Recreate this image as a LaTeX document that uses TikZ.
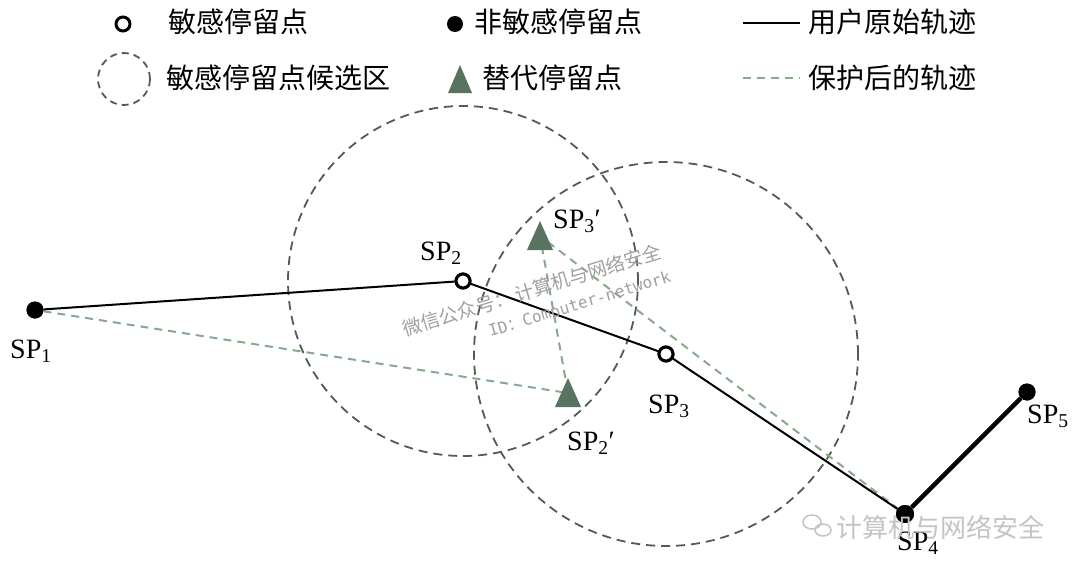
\documentclass[tikz,border=0pt]{standalone}
\usepackage{fontspec}
\setmainfont{Liberation Serif}
\newfontfamily\cjk{Noto Sans CJK SC}
\newfontfamily\monof{DejaVu Sans Mono}
\usetikzlibrary{calc}
\definecolor{candgray}{HTML}{525C54}
\definecolor{trifill}{HTML}{587360}
\definecolor{dashgreen}{HTML}{88AA88}
\definecolor{wmgray}{HTML}{A0A0A0}
\definecolor{wmlight}{HTML}{C4C4C4}
\begin{document}
\begin{tikzpicture}[x=1pt,y=-1pt,
  sens/.style={circle, draw=black, line width=3pt, fill=white, inner sep=0pt, minimum size=14pt},
  nonsens/.style={circle, fill=black, inner sep=0pt, minimum size=17pt},
  cand/.style={draw=candgray, line width=1.8pt, dash pattern=on 9pt off 6pt},
  orig/.style={draw=black, line width=2pt},
  origthick/.style={draw=black, line width=4.5pt},
  prot/.style={draw=dashgreen, line width=2pt, dash pattern=on 8pt off 6pt},
  lbl/.style={anchor=base west, inner sep=0pt, font=\fontsize{28}{30}\selectfont},
  legtxt/.style={anchor=west, inner sep=0pt, font=\cjk\fontsize{28}{30}\selectfont}]
\fill[white] (0,0) rectangle (1080,562);
\useasboundingbox (0,0) rectangle (1080,562);

% ---------- legend ----------
\node[sens] (lgsens) at (123,24) {};
\node[legtxt] (lgsenst) at (168,22) {敏感停留点};
\node[nonsens, minimum size=16pt] (lgnon) at (455,24) {};
\node[legtxt] (lgnont) at (474,22) {非敏感停留点};
\coordinate (lgoa) at (743,23);
\coordinate (lgob) at (800,23);
\draw[orig] (lgoa) -- (lgob);
\node[legtxt] (lgorigt) at (808,22) {用户原始轨迹};

\node[circle, draw=candgray, line width=1.8pt, dash pattern=on 7pt off 5pt, minimum size=52pt, inner sep=0pt] (lgcand) at (124,79) {};
\node[legtxt] (lgcandt) at (166,78) {敏感停留点候选区};
\coordinate (lgtri) at (460,79);
\fill[trifill] ($(lgtri)+(0,-14)$) -- ($(lgtri)+(12,14)$) -- ($(lgtri)+(-12,14)$) -- cycle;
\node[legtxt] (lgtrit) at (482,78) {替代停留点};
\coordinate (lgpa) at (743,78);
\coordinate (lgpb) at (800,78);
\draw[prot] (lgpa) -- (lgpb);
\node[legtxt] (lgprott) at (808,78) {保护后的轨迹};

% ---------- points ----------
\node[nonsens] (sp1) at (35,310) {};
\node[sens] (sp2) at (463,281) {};
\node[sens] (sp3) at (666,354) {};
\node[nonsens, minimum size=18pt] (sp4) at (905,514) {};
\node[nonsens] (sp5) at (1027,392) {};
\coordinate (sp3p) at (540,236);
\coordinate (sp2p) at (568,393);

% candidate regions
\draw[cand] (sp2) circle[radius=175pt];
\draw[cand] (sp3) circle[radius=192pt];

% protected trajectory
\draw[prot] (sp1) -- (sp2p) -- (sp3p) -- (sp4);

% original trajectory
\draw[orig] (sp1) -- (sp2);
\draw[orig] (sp2) -- (sp3);
\draw[orig] (sp3) -- (sp4);
\draw[origthick] (sp4) -- (sp5);

% substitute points
\fill[trifill] ($(sp3p)+(0,-15)$) -- ($(sp3p)+(13,14)$) -- ($(sp3p)+(-13,14)$) -- cycle;
\fill[trifill] ($(sp2p)+(0,-15)$) -- ($(sp2p)+(13,14)$) -- ($(sp2p)+(-13,14)$) -- cycle;

% redraw point markers on top
\node[nonsens] at (sp1) {};
\node[sens] at (sp2) {};
\node[sens] at (sp3) {};
\node[nonsens, minimum size=18pt] at (sp4) {};
\node[nonsens] at (sp5) {};

% labels
\node[lbl] (l1) at (10,358) {SP\textsubscript{1}};
\node[lbl] (l2) at (420,260) {SP\textsubscript{2}};
\node[lbl] (l3p) at (553,228) {SP\textsubscript{3}′};
\node[lbl] (l3) at (648,413) {SP\textsubscript{3}};
\node[lbl] (l2p) at (567,450) {SP\textsubscript{2}′};
\node[lbl] (l4) at (897,550) {SP\textsubscript{4}};
\node[lbl] (l5) at (1027,423) {SP\textsubscript{5}};

% watermarks
\node[rotate=17, text=wmgray, inner sep=0pt, font=\cjk\fontsize{19}{21}\selectfont] (wm1) at (532,290) {微信公众号：\,计算机与网络安全};
\node[rotate=17, text=wmgray, inner sep=0pt, font=\monof\fontsize{16}{18}\selectfont] (wm2) at (580,305) {ID{\cjk ：}Computer-network};
\draw[wmlight, line width=1.5pt] (812,522) ellipse[x radius=9pt, y radius=7pt];
\draw[wmlight, line width=1.5pt] (823,530) ellipse[x radius=8pt, y radius=6pt];
\node[anchor=west, text=wmlight, inner sep=0pt, font=\cjk\fontsize{26}{28}\selectfont] (wm3) at (836,527) {计算机与网络安全};
\end{tikzpicture}
\end{document}
